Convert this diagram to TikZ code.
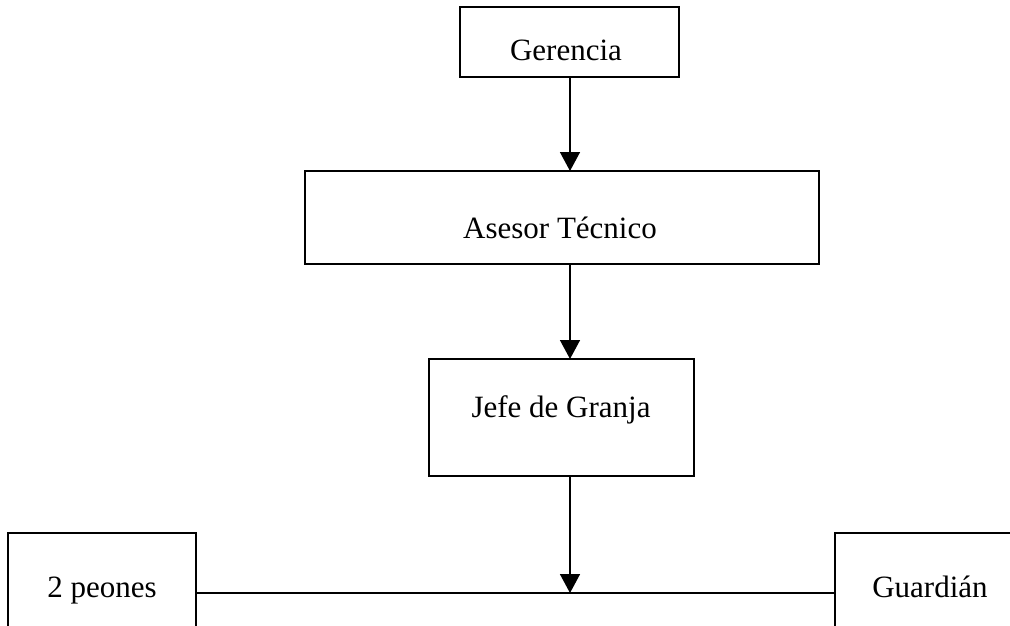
\documentclass[tikz,border=0pt]{standalone}
\usepackage{fontspec}
\setmainfont{Liberation Serif}
\usetikzlibrary{arrows.meta}
\begin{document}
\begin{tikzpicture}[x=1pt,y=-1pt,
  box/.style={draw, line width=1.5pt, inner sep=0pt, outer sep=0pt, rectangle},
  lbl/.style={anchor=base, inner sep=0pt, font=\fontsize{31}{37}\selectfont},
  arr/.style={line width=1.5pt, -{Triangle[width=20pt,length=19pt]}},
  ln/.style={line width=1.5pt}]
\useasboundingbox (0,0) rectangle (1010,625);
\clip (0,0) rectangle (1010,625);
\coordinate (ax) at (570,0);
% boxes
\node[box, minimum width=219, minimum height=70] (ger) at (569.5,42) {};
\node[box, minimum width=514, minimum height=93] (ase) at (562,217.5) {};
\node[box, minimum width=265, minimum height=117] (jef) at (561.5,417.5) {};
\node[box, minimum width=188, minimum height=120] (peo) at (102,593) {};
\node[box, minimum width=240, minimum height=120] (gua) at (955,593) {};
% labels
\node[lbl] (tger) at (566,60) {Gerencia};
\node[lbl] (tase) at (560,238) {Asesor Técnico};
\node[lbl] (tjef) at (561,417) {Jefe de Granja};
\node[lbl] (tpeo) at (102,597) {2 peones};
\node[lbl] (tgua) at (930,597) {Guardián};
% connectors
\draw[ln] (peo.east) -- (gua.west);
\draw[arr] (ax |- ger.south) -- (ax |- ase.north);
\draw[arr] (ax |- ase.south) -- (ax |- jef.north);
\draw[arr] (ax |- jef.south) -- (ax |- peo.east);
\end{tikzpicture}
\end{document}
